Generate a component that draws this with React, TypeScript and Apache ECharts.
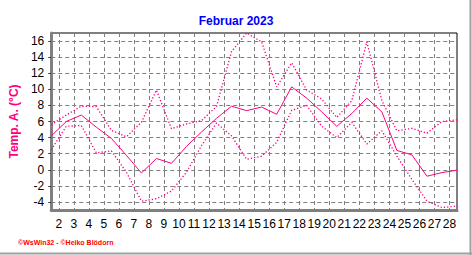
import React, { useEffect, useRef } from "react";
import * as echarts from "echarts";

const title = "Februar 2023";
const yTitle = "Temp. A. (°C)";
const footer = "©WsWin32 - ©Heiko Blödorn";

const days = [1, 2, 3, 4, 5, 6, 7, 8, 9, 10, 11, 12, 13, 14, 15, 16, 17, 18, 19, 20, 21, 22, 23, 24, 25, 26, 27, 28];
const dayLabels = [2, 3, 4, 5, 6, 7, 8, 9, 10, 11, 12, 13, 14, 15, 16, 17, 18, 19, 20, 21, 22, 23, 24, 25, 26, 27, 28];
const yLabels = [-4, -2, 0, 2, 4, 6, 8, 10, 12, 14, 16];

const tMean = [4.2, 6.0, 6.8, 5.3, 3.9, 1.8, -0.4, 1.4, 0.8, 2.9, 4.7, 6.4, 7.9, 7.35, 7.8, 6.9, 10.3, 8.9, 7.2, 5.4, 7.0, 8.9, 7.2, 2.4, 1.85, -0.8, -0.35, -0.05];
const tMax = [5.6, 6.8, 7.9, 7.85, 4.9, 4.1, 5.9, 9.9, 5.1, 5.7, 6.1, 7.9, 14.7, 17.0, 15.9, 10.3, 13.3, 9.9, 8.8, 6.5, 8.6, 15.9, 8.6, 4.85, 5.15, 4.55, 6.0, 6.2];
const tMin = [2.5, 5.4, 5.5, 2.1, 2.35, -0.3, -3.9, -3.6, -2.65, -0.3, 3.0, 5.8, 4.2, 1.3, 1.7, 3.4, 7.4, 8.0, 5.4, 4.0, 5.9, 3.2, 4.85, 1.7, -1.2, -3.9, -4.7, -4.5];

const LINE = "#ff0080";
const GRID = "#808080";
const NONE = "rgba(0,0,0,0)";
const FONT = "Liberation Sans, Arial, sans-serif";

const toPts = (vals: number[]) => days.map((d, i) => [d + 0.5, vals[i]]);

export default function App() {
  const ref = useRef<HTMLDivElement>(null);
  useEffect(() => {
    if (!ref.current) return;
    const chart = echarts.init(ref.current, null, { renderer: "svg" });
    chart.setOption({
      animation: false,
      backgroundColor: "#ffffff",
      title: {
        text: title,
        left: "center",
        top: 10,
        textStyle: { color: "#0000ff", fontSize: 12, fontWeight: "bold", fontFamily: FONT },
      },
      grid: {
        left: 51,
        right: 15,
        top: 33,
        bottom: 45,
        show: true,
        borderColor: "#000000",
        borderWidth: 1,
        backgroundColor: NONE,
      },
      xAxis: [
        {
          type: "value",
          min: 1.5,
          max: 28.5,
          interval: 0.25,
          position: "bottom",
          axisLine: { show: true, onZero: false, lineStyle: { color: GRID, width: 3 } },
          axisTick: { show: true, length: 2, lineStyle: { color: GRID } },
          axisLabel: {
            show: true,
            margin: 8,
            color: "#000000",
            fontSize: 12,
            fontFamily: FONT,
            formatter: (v: number) => (Math.abs(v - Math.round(v)) < 1e-6 ? String(Math.round(v)) : ""),
          },
          splitLine: {
            show: true,
            lineStyle: { color: [NONE, NONE, GRID, NONE], type: [4, 3], width: 1 },
          },
        },
        {
          type: "value",
          min: 1.5,
          max: 28.5,
          position: "bottom",
          axisLine: { show: false },
          axisTick: { show: true, length: 4, customValues: dayLabels, lineStyle: { color: GRID } },
          axisLabel: { show: false },
          splitLine: { show: false },
        },
      ],
      yAxis: [
        {
          type: "value",
          min: -5,
          max: 17,
          interval: 1,
          position: "left",
          name: yTitle,
          nameLocation: "middle",
          nameGap: 23,
          nameTextStyle: { color: LINE, fontSize: 12, fontWeight: "bold", fontFamily: FONT },
          axisLine: { show: true, onZero: false, lineStyle: { color: GRID, width: 3 } },
          axisTick: { show: false },
          axisLabel: {
            show: true,
            margin: 7,
            color: "#000000",
            fontSize: 12,
            fontFamily: FONT,
            formatter: (v: number) => (yLabels.includes(Math.round(v)) && Math.abs(v - Math.round(v)) < 1e-6 ? String(Math.round(v)) : ""),
          },
          splitLine: {
            show: true,
            lineStyle: { color: [NONE, GRID], type: [4, 3], width: 1 },
          },
        },
        {
          type: "value",
          min: -5,
          max: 17,
          position: "left",
          axisLine: { show: false },
          axisTick: { show: true, length: 3, customValues: yLabels, lineStyle: { color: "#404040" } },
          axisLabel: { show: false },
          splitLine: { show: false },
        },
      ],
      graphic: [
        {
          type: "text",
          left: 18,
          top: 239,
          style: { text: footer, fill: "#ff0000", font: "bold 7px " + FONT },
        },
        {
          type: "line",
          shape: { x1: 0, y1: 253.5, x2: 472, y2: 253.5 },
          style: { stroke: "#a0a0a0", lineWidth: 2 },
        },
        {
          type: "line",
          shape: { x1: 470.5, y1: 0, x2: 470.5, y2: 255 },
          style: { stroke: "#a0a0a0", lineWidth: 2 },
        },
      ],
      series: [
        {
          type: "line",
          data: toPts(tMax),
          symbol: "none",
          lineStyle: { color: LINE, width: 1.3, type: [1.3, 2] },
          z: 3,
        },
        {
          type: "line",
          data: toPts(tMin),
          symbol: "none",
          lineStyle: { color: LINE, width: 1.3, type: [1.3, 2] },
          z: 3,
        },
        {
          type: "line",
          data: toPts(tMean),
          symbol: "none",
          lineStyle: { color: LINE, width: 1 },
          z: 4,
        },
      ],
    });
    return () => chart.dispose();
  }, []);
  return (
    <div
      ref={ref}
      style={{ position: "fixed", left: 0, top: 0, width: 472, height: 255, background: "#fff" }}
    />
  );
}
